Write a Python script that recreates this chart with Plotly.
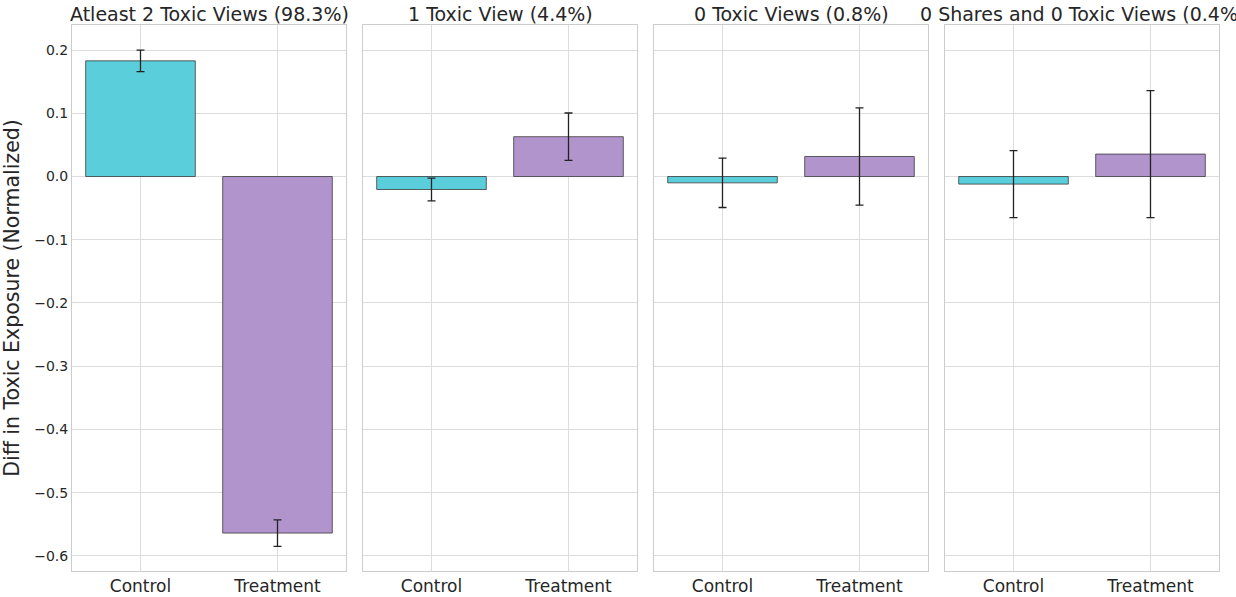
import plotly.graph_objects as go

panel_titles = ["Atleast 2 Toxic Views (98.3%)", "1 Toxic View (4.4%)",
                "0 Toxic Views (0.8%)", "0 Shares and 0 Toxic Views (0.4%)"]
groups = ["Control", "Treatment"]
control_vals = [0.183, -0.0205, -0.010, -0.012]
control_err = [0.017, 0.018, 0.039, 0.053]
treatment_vals = [-0.564, 0.063, 0.0317, 0.0355]
treatment_err = [0.021, 0.0375, 0.077, 0.1005]

colors = ["#5bcedb", "#b294cd"]
edge = "rgba(50,50,50,0.75)"
txt = "#262626"

fig = go.Figure()
W = 1147.0
for i in range(4):
    xa = "x" if i == 0 else f"x{i+1}"
    ya = "y" if i == 0 else f"y{i+1}"
    fig.add_trace(go.Bar(
        x=groups, y=[control_vals[i], treatment_vals[i]],
        marker=dict(color=colors, line=dict(color=edge, width=1)),
        width=0.8,
        error_y=dict(type="data", array=[control_err[i], treatment_err[i]],
                     color="#222222", thickness=1.3, width=4),
        xaxis=xa, yaxis=ya, showlegend=False,
    ))
    d0 = 291 * i / W
    d1 = (291 * i + 274) / W
    xk = "xaxis" if i == 0 else f"xaxis{i+1}"
    yk = "yaxis" if i == 0 else f"yaxis{i+1}"
    fig.layout[xk] = dict(domain=[d0, d1], anchor=ya, range=[-0.5, 1.5],
                          showgrid=True, gridcolor="#dcdcdc", gridwidth=1,
                          showline=True, mirror=True, linecolor="#cccccc", linewidth=1,
                          tickfont=dict(size=17, color=txt), ticks="", automargin=False,
                          zeroline=False, fixedrange=True)
    fig.layout[yk] = dict(range=[-0.624, 0.2397], anchor=xa,
                          showgrid=True, gridcolor="#dcdcdc", gridwidth=1,
                          showline=True, mirror=True, linecolor="#cccccc", linewidth=1,
                          dtick=0.1, tick0=0, tickformat=".1f", automargin=False,
                          showticklabels=(i == 0), matches="y" if i > 0 else None,
                          tickfont=dict(size=14, color=txt), zeroline=False, ticks="")
    fig.add_annotation(text=panel_titles[i], x=(d0 + d1) / 2, y=1, xref="paper", yref="paper",
                       xanchor="center", yanchor="bottom", yshift=-2, showarrow=False,
                       font=dict(size=19, color=txt))

fig.layout.yaxis.title = dict(text="Diff in Toxic Exposure (Normalized)",
                              font=dict(size=20.5, color=txt), standoff=9)
fig.update_layout(width=1236, height=597, plot_bgcolor="white", paper_bgcolor="white",
                  margin=dict(l=72, r=17, t=25, b=26, autoexpand=False),
                  font=dict(family="DejaVu Sans", color=txt), bargap=0.2)
fig.write_html("out.html", config={"displayModeBar": False},
               post_script="document.body.style.margin='0px';")
